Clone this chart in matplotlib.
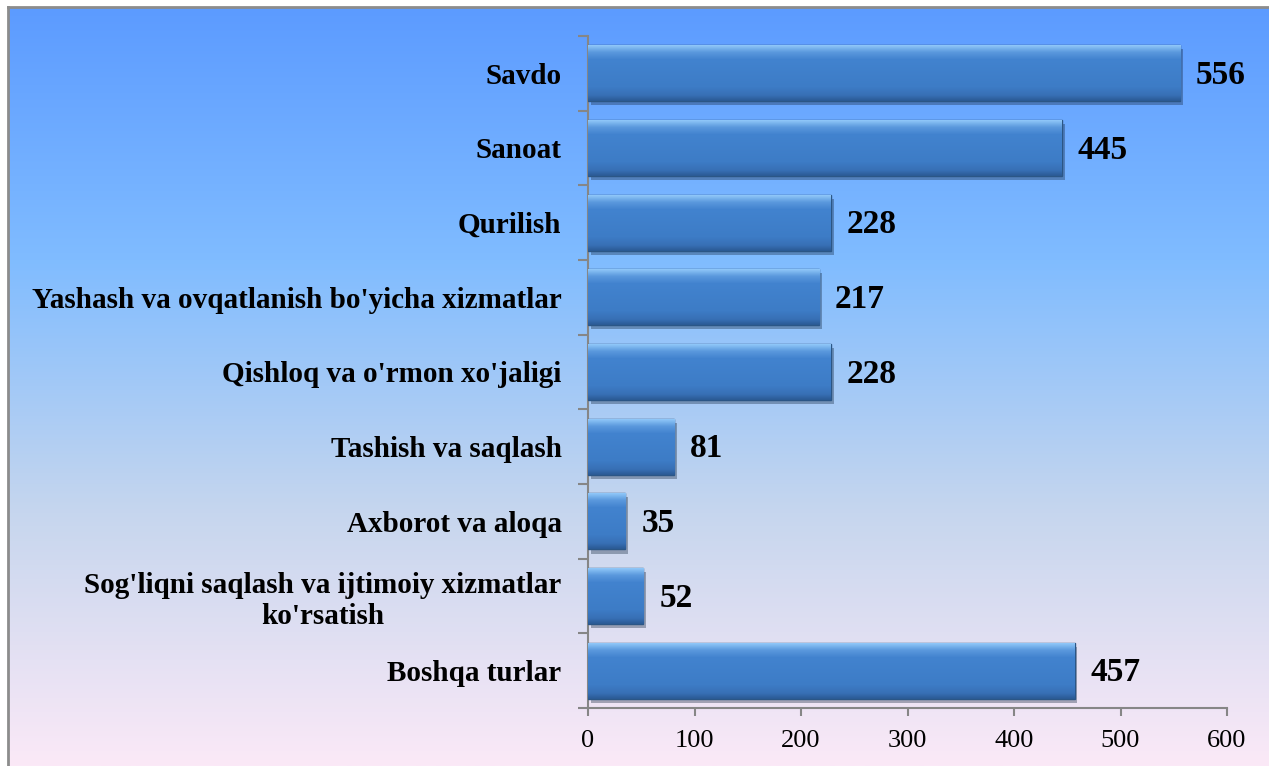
import numpy as np
import matplotlib
matplotlib.use("Agg")
import matplotlib.pyplot as plt
from matplotlib import patheffects as pe
from matplotlib.colors import LinearSegmentedColormap

# data
categories = ["Savdo", "Sanoat", "Qurilish",
              "Yashash va ovqatlanish bo'yicha xizmatlar",
              "Qishloq va o'rmon xo'jaligi", "Tashish va saqlash",
              "Axborot va aloqa",
              "Sog'liqni saqlash va ijtimoiy xizmatlar\nko'rsatish",
              "Boshqa turlar"]
values = [556, 445, 228, 217, 228, 81, 35, 52, 457]
xticks = [0, 100, 200, 300, 400, 500, 600]

plt.rcParams['font.family'] = ['Liberation Serif', 'DejaVu Serif']

W, H = 1269, 766
fig = plt.figure(figsize=(W / 100, H / 100), dpi=100)
fig.patch.set_facecolor('white')

# chart background gradient (blue -> pink)
bg_cmap = LinearSegmentedColormap.from_list('bg', ['#5c9bff', '#80bcff', '#c6d6ee', '#fbe9f7'])
bg = fig.add_axes([8 / W, 0, 1 - 8 / W, 1 - 7 / H])
bg.imshow(np.linspace(0, 1, 256).reshape(-1, 1), aspect='auto', cmap=bg_cmap,
          extent=[0, 1, 0, 1], origin='upper')
bg.set_xlim(0, 1)
bg.set_ylim(0, 1)
bg.set_xticks([])
bg.set_yticks([])
for s in ['right', 'bottom']:
    bg.spines[s].set_visible(False)
for s in ['left', 'top']:
    bg.spines[s].set_color('#8c8c8c')
    bg.spines[s].set_linewidth(2)

# plot area
ax = fig.add_axes([588 / W, 1 - 708 / H, (1227 - 588) / W, (708 - 36) / H])
ax.patch.set_alpha(0)

n = len(categories)
y = np.arange(n)
bar_h = 0.75
# bevel look: light top edge, flat middle, darker bottom edge
bar_cmap = LinearSegmentedColormap.from_list(
    'bar', [(0.0, '#8ec6f8'), (0.12, '#5b99dd'), (0.25, '#4283cf'),
            (0.75, '#3d7cc6'), (0.9, '#3870b6'), (1.0, '#2b5b95')])

bars = ax.barh(y, values, height=bar_h, color='#3e7dc8', edgecolor='#2b5686',
               linewidth=1.0, zorder=3,
               path_effects=[pe.SimplePatchShadow(offset=(2, -3), alpha=0.35), pe.Normal()])
grad = np.linspace(1, 0, 64).reshape(-1, 1)
for b in bars:
    x0, y0 = b.get_x(), b.get_y()
    w, h = b.get_width(), b.get_height()
    im = ax.imshow(grad, aspect='auto', cmap=bar_cmap, extent=[x0, x0 + w, y0 + h, y0],
                   origin='lower', zorder=3.5)
    im.set_clip_path(b)

for yi, v in zip(y, values):
    ax.text(v + 15, yi + 0.03, str(v), va='center', ha='left', fontsize=24,
            fontweight='bold', zorder=5)

ax.set_xlim(0, 600)
ax.set_ylim(n - 0.5, -0.5)
ax.set_xticks(xticks)
ax.set_xticklabels([str(t) for t in xticks], fontsize=19)
ax.set_yticks(y)
ax.set_yticklabels(categories, fontsize=21, fontweight='bold', multialignment='center')
ax.set_yticks(np.arange(n + 1) - 0.5, minor=True)
ax.tick_params(axis='y', which='major', length=0, pad=19)
ax.tick_params(axis='y', which='minor', length=7, width=1.5, color='#868686')
ax.tick_params(axis='x', length=6, width=1.5, color='#868686', pad=10)
for s in ['top', 'right']:
    ax.spines[s].set_visible(False)
for s in ['left', 'bottom']:
    ax.spines[s].set_color('#868686')
    ax.spines[s].set_linewidth(1.5)

fig.savefig('out.png', dpi=100)
